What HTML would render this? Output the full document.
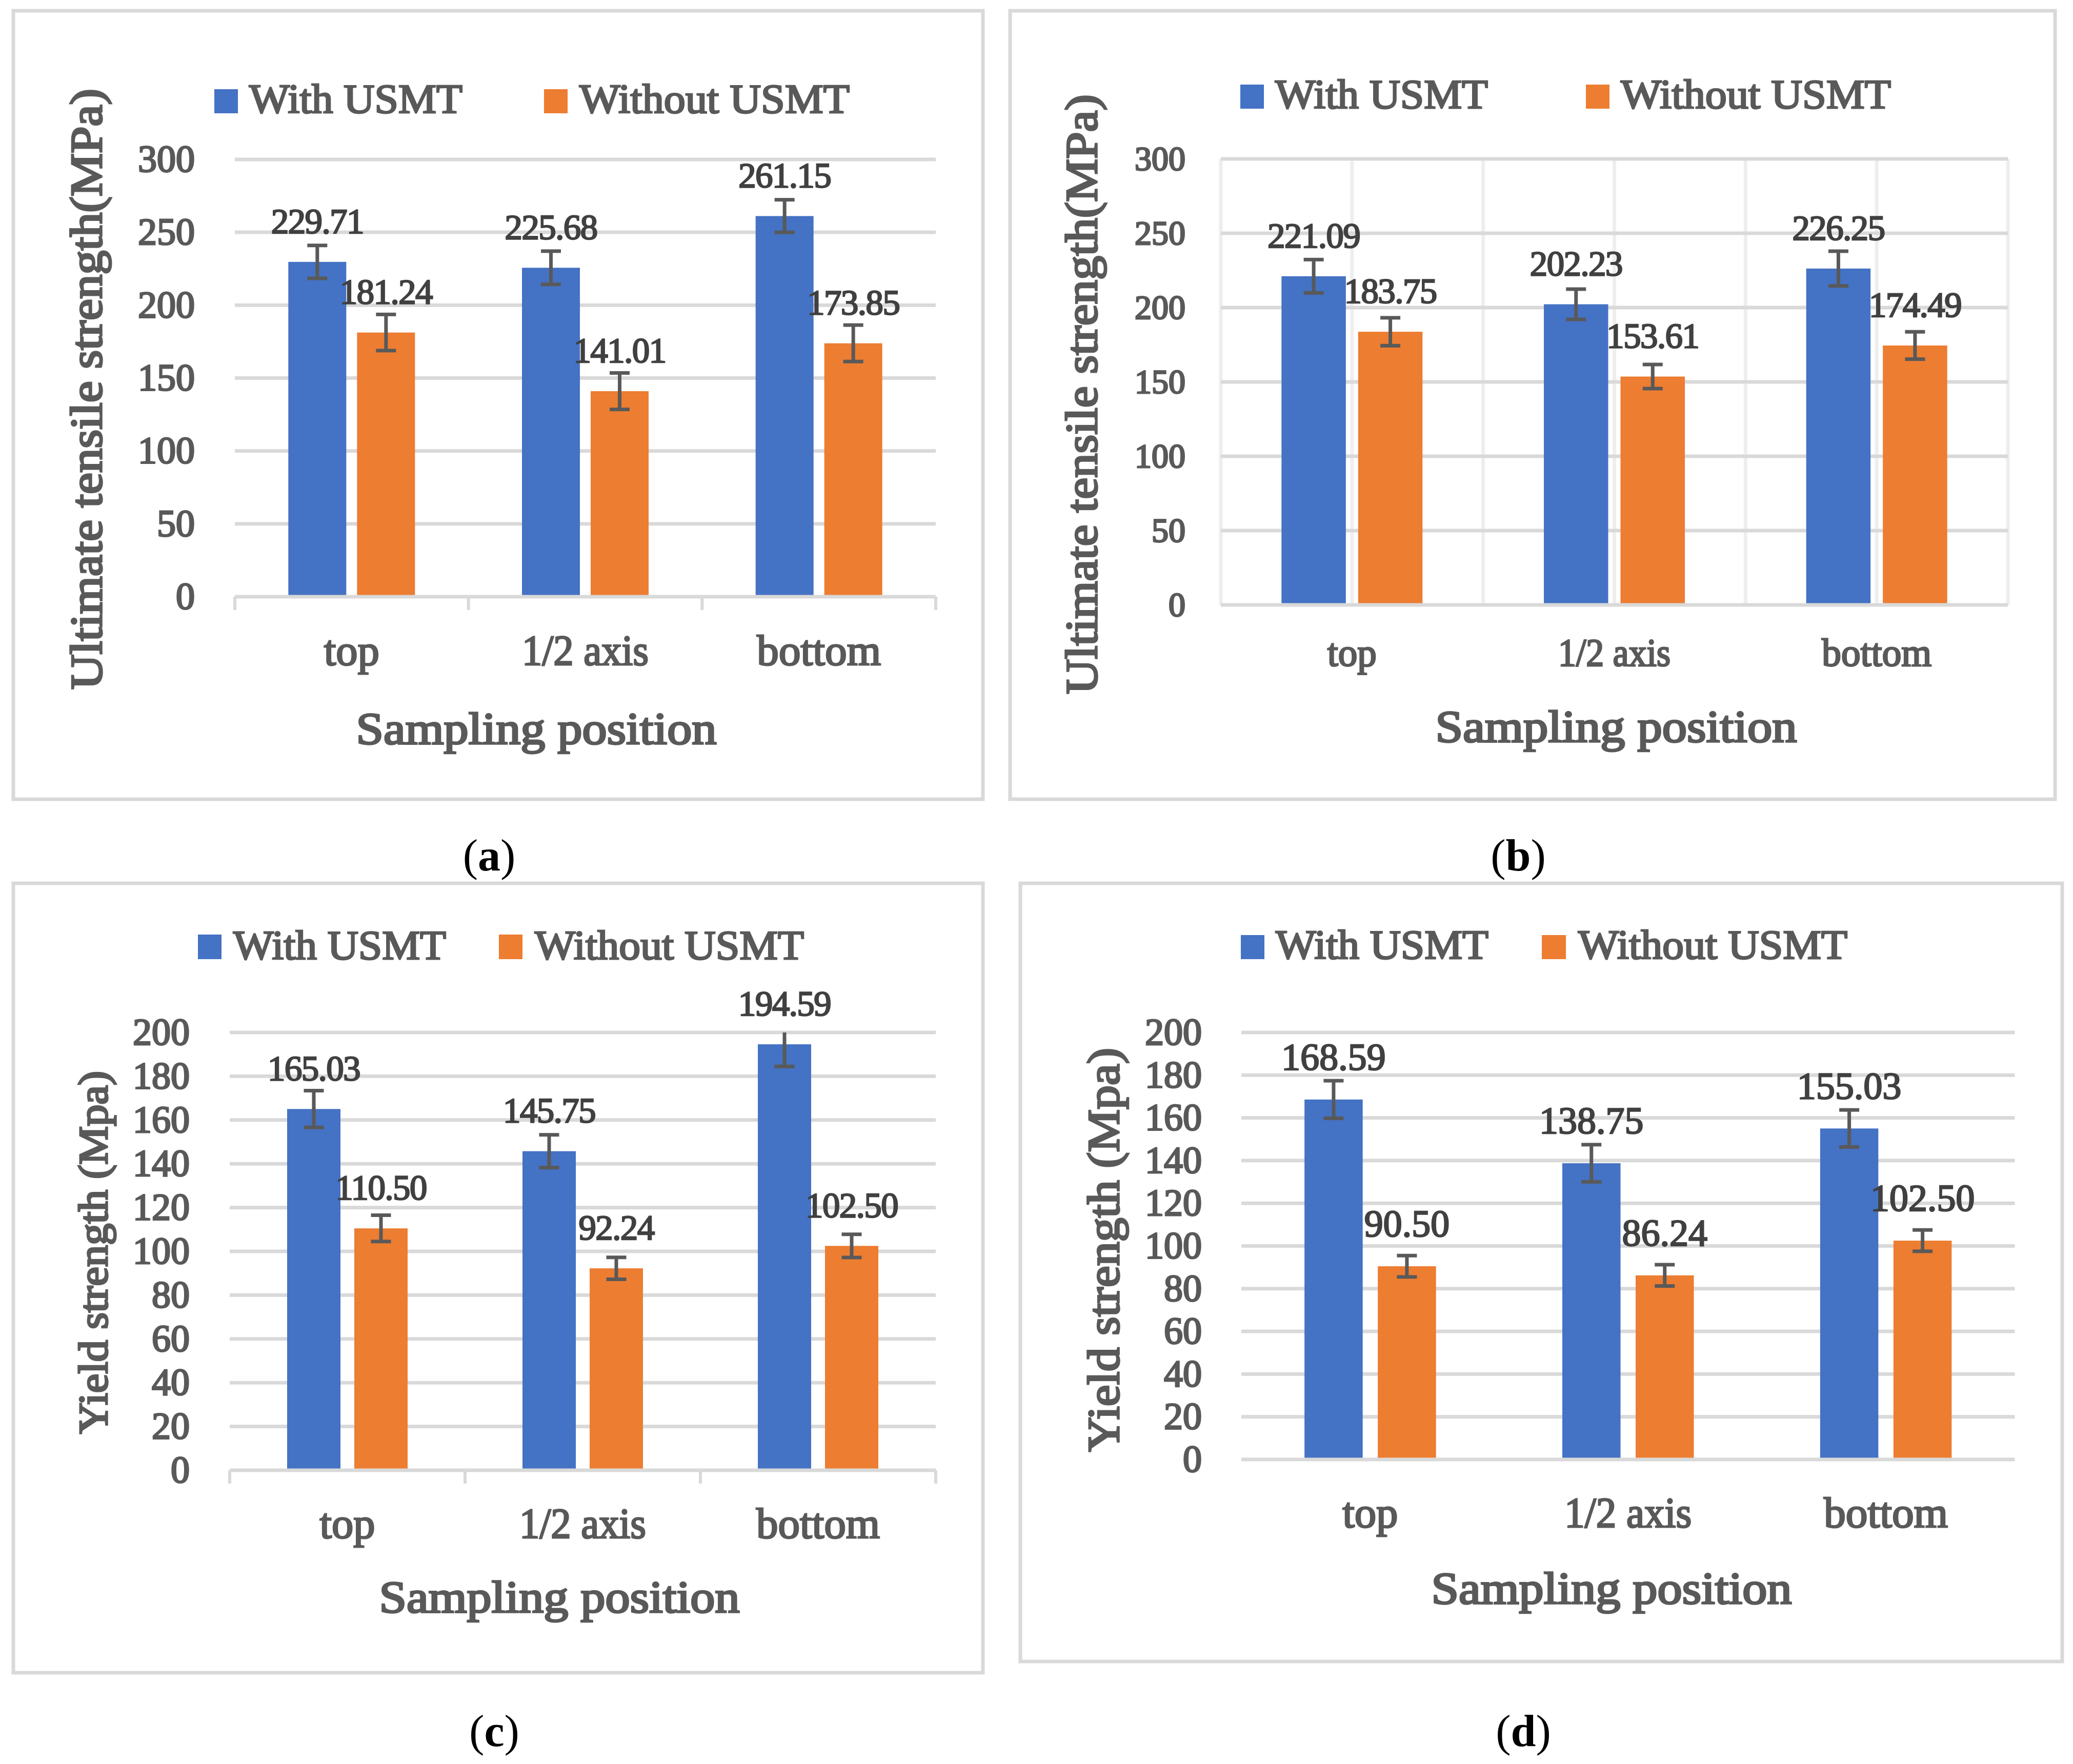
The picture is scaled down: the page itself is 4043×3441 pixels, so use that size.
<!DOCTYPE html>
<html lang="en">
<head>
<meta charset="utf-8">
<title>Tensile and yield strength with and without USMT</title>
<style>
html,body{margin:0;padding:0;background:#fff;width:4043px;height:3441px;overflow:hidden}
svg{display:block}
text{font-family:"Liberation Serif","DejaVu Serif",serif}
.legend{font-size:80px;fill:#595959;stroke:#595959;stroke-width:3}
.title{font-size:88px;fill:#595959;stroke:#595959;stroke-width:3.5}
.cap{font-size:88px;fill:#000}
.cap tspan{font-weight:bold}
</style>
</head>
<body>
<svg id="figure" xmlns="http://www.w3.org/2000/svg" width="4043" height="3441" viewBox="0 0 4043 3441">
<rect x="0" y="0" width="4043" height="3441" fill="#fff"/>

<g id="panel-a">
<rect x="26" y="21" width="1891" height="1538" fill="#fff" stroke="#d9d9d9" stroke-width="7"/>
<rect x="418" y="174" width="46" height="47" fill="#4472c4"/>
<text class="legend" x="486" y="220" textLength="416" lengthAdjust="spacingAndGlyphs">With USMT</text>
<rect x="1061" y="174" width="46" height="47" fill="#ed7d31"/>
<text class="legend" x="1130" y="220" textLength="527" lengthAdjust="spacingAndGlyphs">Without USMT</text>
<text class="title" x="1046" y="1451" text-anchor="middle" textLength="703" lengthAdjust="spacingAndGlyphs">Sampling position</text>
<text class="title" transform="translate(198 1345) rotate(-90)" x="0" y="0" textLength="1172" lengthAdjust="spacingAndGlyphs">Ultimate tensile strength(MPa)</text>
</g>

<g id="panel-b">
<rect x="1970" y="21" width="2038" height="1538" fill="#fff" stroke="#d9d9d9" stroke-width="7"/>
<rect x="2419" y="165" width="46" height="47" fill="#4472c4"/>
<text class="legend" x="2487" y="211" textLength="415" lengthAdjust="spacingAndGlyphs">With USMT</text>
<rect x="3093" y="165" width="46" height="47" fill="#ed7d31"/>
<text class="legend" x="3161" y="211" textLength="527" lengthAdjust="spacingAndGlyphs">Without USMT</text>
<text class="title" x="3152" y="1447" text-anchor="middle" textLength="705" lengthAdjust="spacingAndGlyphs">Sampling position</text>
<text class="title" transform="translate(2139 1354) rotate(-90)" x="0" y="0" textLength="1170" lengthAdjust="spacingAndGlyphs">Ultimate tensile strength(MPa)</text>
</g>

<g id="panel-c">
<rect x="26" y="1723" width="1891" height="1540" fill="#fff" stroke="#d9d9d9" stroke-width="7"/>
<rect x="386" y="1823" width="46" height="48" fill="#4472c4"/>
<text class="legend" x="455" y="1871" textLength="415" lengthAdjust="spacingAndGlyphs">With USMT</text>
<rect x="973" y="1823" width="46" height="48" fill="#ed7d31"/>
<text class="legend" x="1043" y="1871" textLength="525" lengthAdjust="spacingAndGlyphs">Without USMT</text>
<text class="title" x="1091" y="3145" text-anchor="middle" textLength="703" lengthAdjust="spacingAndGlyphs">Sampling position</text>
<text class="title" transform="translate(209 2797) rotate(-90)" x="0" y="0" textLength="708" lengthAdjust="spacingAndGlyphs" style="font-size:80px">Yield strength (Mpa)</text>
</g>

<g id="panel-d">
<rect x="1990" y="1723" width="2032" height="1518" fill="#fff" stroke="#d9d9d9" stroke-width="7"/>
<rect x="2420" y="1824" width="46" height="47" fill="#4472c4"/>
<text class="legend" x="2488" y="1870" textLength="415" lengthAdjust="spacingAndGlyphs">With USMT</text>
<rect x="3007" y="1824" width="47" height="47" fill="#ed7d31"/>
<text class="legend" x="3078" y="1870" textLength="525" lengthAdjust="spacingAndGlyphs">Without USMT</text>
<text class="title" x="3143" y="3128" text-anchor="middle" textLength="703" lengthAdjust="spacingAndGlyphs">Sampling position</text>
<text class="title" transform="translate(2182 2832) rotate(-90)" x="0" y="0" textLength="788" lengthAdjust="spacingAndGlyphs" style="font-size:88px">Yield strength (Mpa)</text>
</g>

<text class="cap" x="954" y="1698" text-anchor="middle">(<tspan>a</tspan>)</text>
<text class="cap" x="2961" y="1698" text-anchor="middle">(<tspan>b</tspan>)</text>
<text class="cap" x="964" y="3406" text-anchor="middle">(<tspan>c</tspan>)</text>
<text class="cap" x="2971" y="3406" text-anchor="middle">(<tspan>d</tspan>)</text>
</svg>

<script>
const categories = ['top', '1/2 axis', 'bottom'];
const tensileTicks = [0, 50, 100, 150, 200, 250, 300];
const yieldTicks = [0, 20, 40, 60, 80, 100, 120, 140, 160, 180, 200];

const withUsmtA = [229.71, 225.68, 261.15];
const withoutUsmtA = [181.24, 141.01, 173.85];
const withErrA = [11.3, 11.4, 11.2];
const withoutErrA = [12.4, 12.5, 12.5];

const withUsmtB = [221.09, 202.23, 226.25];
const withoutUsmtB = [183.75, 153.61, 174.49];
const withErrB = [11.2, 10.2, 11.7];
const withoutErrB = [9.4, 8.1, 9.2];

const withUsmtC = [165.03, 145.75, 194.59];
const withoutUsmtC = [110.50, 92.24, 102.50];
const withErrC = [8.4, 7.5, 10.1];
const withoutErrC = [6.0, 5.0, 5.3];

const withUsmtD = [168.59, 138.75, 155.03];
const withoutUsmtD = [90.50, 86.24, 102.50];
const withErrD = [8.8, 8.7, 8.7];
const withoutErrD = [5.0, 5.0, 5.0];

const SVGNS = 'http://www.w3.org/2000/svg';

function make(parent, tag, attrs, txt) {
  const el = document.createElementNS(SVGNS, tag);
  for (const k in attrs) el.setAttribute(k, attrs[k]);
  if (txt !== undefined) el.textContent = txt;
  parent.appendChild(el);
  return el;
}

function renderPanel(L, withVals, withoutVals, withErr, withoutErr, ticks) {
  const g = document.getElementById('panel-' + L.id);
  const maxV = ticks[ticks.length - 1];
  const yAxis = v => L.yB - (v / maxV) * (L.yB - L.yT);
  const catW = (L.x1 - L.x0) / categories.length;
  const xCat = i => L.x0 + catW * (i + 0.5);

  if (L.vgrid) {
    for (let i = 0; i <= categories.length * 2; i++) {
      const x = L.x0 + i * catW / 2;
      const vl = make(g, 'line', {x1: x, x2: x, y1: L.yT, y2: L.yB, stroke: '#eeeeee', 'stroke-width': 7});
      
      
    }
  }

  ticks.forEach(t => {
    const y = yAxis(t);
    if (t !== 0) {
      const gl = make(g, 'line', {x1: L.x0, x2: L.x1, y1: y, y2: y, stroke: '#d9d9d9', 'stroke-width': 7});
      
      
    }
    const tl = make(g, 'text', {x: L.tickRight, y: y + L.tickDy, 'text-anchor': 'end', 'font-size': L.tickFont, fill: '#595959', stroke: '#595959', 'stroke-width': 3}, String(t));
    
    
  });

  categories.forEach((c, i) => {
    const cx = xCat(i);
    const seriesList = [
      {key: 'with-usmt', v: withVals[i], e: withErr[i], color: '#4472c4', x: cx - L.gap / 2 - L.barW},
      {key: 'without-usmt', v: withoutVals[i], e: withoutErr[i], color: '#ed7d31', x: cx + L.gap / 2}
    ];
    seriesList.forEach(s => {
      const top = yAxis(s.v);
      const bar = make(g, 'rect', {x: s.x, y: top, width: L.barW, height: L.yB - top, fill: s.color});
      
      
    });
    const cl = make(g, 'text', {x: cx, y: L.catBase, 'text-anchor': 'middle', 'font-size': L.catFont, fill: '#595959', stroke: '#595959', 'stroke-width': 3, textLength: L.catLen[i], lengthAdjust: 'spacingAndGlyphs'}, c);
    
    
  });

  const axis = make(g, 'line', {x1: L.x0, x2: L.x1, y1: L.yB, y2: L.yB, stroke: '#d9d9d9', 'stroke-width': 7});
  
  

  if (L.ticks) {
    for (let i = 0; i <= categories.length; i++) {
      const x = L.x0 + i * catW;
      const tk = make(g, 'line', {x1: x, x2: x, y1: L.yB, y2: L.yB + 26, stroke: '#d9d9d9', 'stroke-width': 6});
      
      
    }
  }

  categories.forEach((c, i) => {
    const cx = xCat(i);
    const seriesList = [
      {key: 'with-usmt', v: withVals[i], e: withErr[i], x: cx - L.gap / 2 - L.barW / 2},
      {key: 'without-usmt', v: withoutVals[i], e: withoutErr[i], x: cx + L.gap / 2 + L.barW / 2}
    ];
    seriesList.forEach(s => {
      const hiV = Math.min(s.v + s.e, maxV);
      const yHi = yAxis(hiV);
      const yLo = yAxis(s.v - s.e);
      const stem = make(g, 'line', {x1: s.x, x2: s.x, y1: yHi, y2: yLo, stroke: '#595959', 'stroke-width': 7});
      
      
      const capLo = make(g, 'line', {x1: s.x - 19.5, x2: s.x + 19.5, y1: yLo, y2: yLo, stroke: '#595959', 'stroke-width': 7});
      
      
      if (s.v + s.e <= maxV) {
        const capHi = make(g, 'line', {x1: s.x - 19.5, x2: s.x + 19.5, y1: yHi, y2: yHi, stroke: '#595959', 'stroke-width': 7});
        
        
      }
      const lab = make(g, 'text', {x: s.x, y: yAxis(s.v) - L.labDy, 'text-anchor': 'middle', 'font-size': L.labFont, 'letter-spacing': L.labSp, fill: '#404040', stroke: '#404040', 'stroke-width': 2.5}, s.v.toFixed(2));
      
      
    });
  });
}

const layoutA = {id: 'a', x0: 458, x1: 1825, yT: 311, yB: 1164, barW: 113, gap: 21, tickRight: 380, tickFont: 74, tickDy: 24, catBase: 1297, catFont: 84, catLen: [108, 247, 242], labFont: 69, labSp: -1.6, labDy: 56, ticks: true, vgrid: false};
const layoutB = {id: 'b', x0: 2381, x1: 3916, yT: 310, yB: 1180, barW: 125.5, gap: 24, tickRight: 2312, tickFont: 66, tickDy: 22, catBase: 1299, catFont: 76, catLen: [96, 219, 214], labFont: 69, labSp: -1.6, labDy: 56, ticks: false, vgrid: true};
const layoutC = {id: 'c', x0: 448, x1: 1825, yT: 2014, yB: 2868, barW: 104, gap: 27, tickRight: 370, tickFont: 74, tickDy: 24, catBase: 3000, catFont: 84, catLen: [108, 247, 241], labFont: 69, labSp: -1.6, labDy: 56, ticks: true, vgrid: false};
const layoutD = {id: 'd', x0: 2421, x1: 3929.5, yT: 2014, yB: 2847, barW: 113.5, gap: 29.5, tickRight: 2344, tickFont: 74, tickDy: 24, catBase: 2979, catFont: 84, catLen: [108, 248, 242], labFont: 74, labSp: 0, labDy: 58, ticks: false, vgrid: false};

renderPanel(layoutA, withUsmtA, withoutUsmtA, withErrA, withoutErrA, tensileTicks);
renderPanel(layoutB, withUsmtB, withoutUsmtB, withErrB, withoutErrB, tensileTicks);
renderPanel(layoutC, withUsmtC, withoutUsmtC, withErrC, withoutErrC, yieldTicks);
renderPanel(layoutD, withUsmtD, withoutUsmtD, withErrD, withoutErrD, yieldTicks);
</script>
</body>
</html>
